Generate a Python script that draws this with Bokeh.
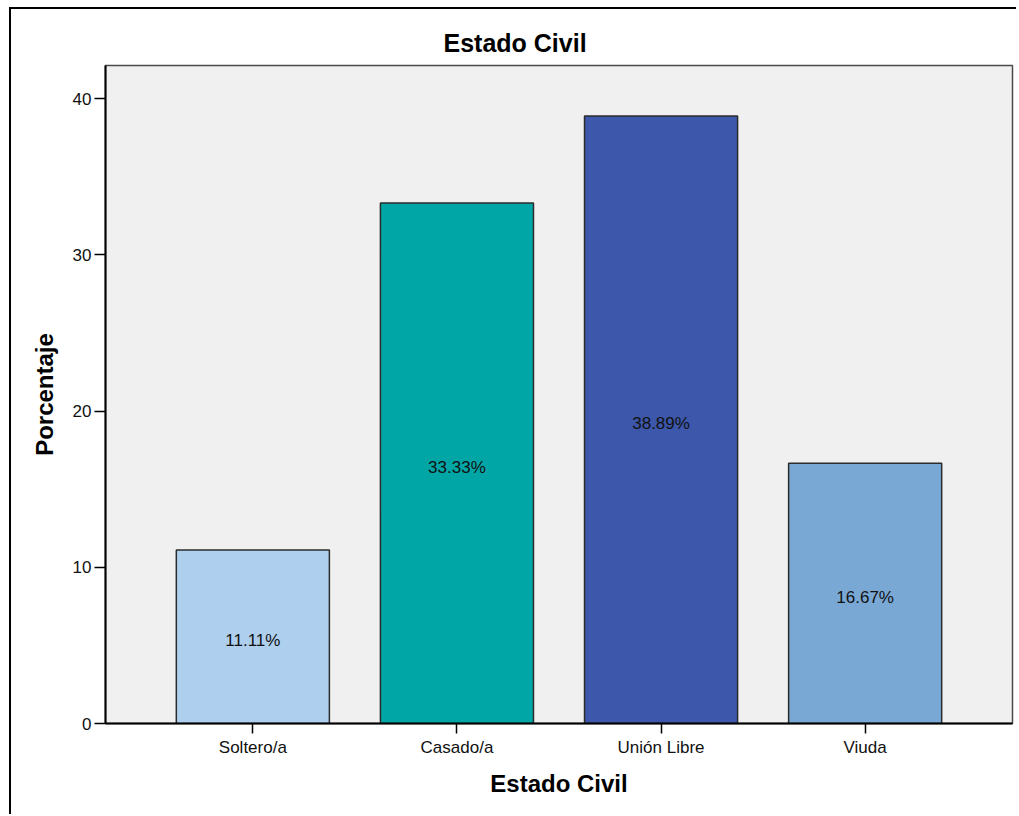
from bokeh.plotting import figure
from bokeh.models import ColumnDataSource, FixedTicker, Range1d, Title
from bokeh.embed import file_html
from bokeh.resources import INLINE
from bokeh.core.properties import value

# Estado civil: porcentaje de personas en cada categoría
categorias = ["Soltero/a", "Casado/a", "Unión Libre", "Viuda"]
porcentajes = [11.11, 33.33, 38.89, 16.67]
colores = ["#AECFEE", "#00A6A6", "#3D57AA", "#7AA8D5"]
y_ticks = [0, 10, 20, 30, 40]

FONT = "Liberation Sans"

posiciones = list(range(len(categorias)))
src = ColumnDataSource(dict(
    x=posiciones,
    top=porcentajes,
    mid=[v / 2 for v in porcentajes],
    color=colores,
    label=[f"{v:.2f}%" for v in porcentajes],
))

p = figure(
    width=1008, height=807,
    x_range=Range1d(-0.722, len(categorias) - 1 + 0.722),
    y_range=Range1d(0, 42.13),
    output_backend="svg", toolbar_location=None,
    min_border_left=94, min_border_right=7,
    min_border_top=56, min_border_bottom=93,
)
# marco exterior: solo lados izquierdo y superior
p.styles = {
    "position": "absolute", "left": "11px", "top": "9px",
    "box-shadow": "-2px -2px 0 0 #000",
    "clip-path": "inset(-3px 3px 0px -3px)",
}

p.background_fill_color = "#F0F0F0"
p.border_fill_color = "#FFFFFF"
p.outline_line_color = "#4a4a4a"
p.outline_line_width = 1.5
p.xgrid.visible = False
p.ygrid.visible = False

p.vbar(x="x", top="top", bottom=0, width=0.75, source=src,
       fill_color="color", line_color="#2b2b2b", line_width=1.5)

p.text(x="x", y="mid", text="label", source=src,
       text_align="center", text_baseline="middle", y_offset=4,
       text_font=value(FONT), text_font_size="17px", text_color="#111111")

# Eje Y
p.yaxis.ticker = FixedTicker(ticks=y_ticks)
p.yaxis.minor_tick_line_color = None
p.yaxis.major_tick_out = 11
p.yaxis.major_tick_in = 0
p.yaxis.major_tick_line_width = 1.5
p.yaxis.axis_line_width = 2
p.yaxis.major_label_standoff = 3
p.yaxis.major_label_text_font = FONT
p.yaxis.major_label_text_font_size = "17px"
p.yaxis.major_label_text_color = "#111111"
p.yaxis.axis_label = "Porcentaje"
p.yaxis.axis_label_text_font = FONT
p.yaxis.axis_label_text_font_style = "bold"
p.yaxis.axis_label_text_font_size = "24px"
p.yaxis.axis_label_text_color = "#000000"
p.yaxis.axis_label_standoff = 12

# Eje X
p.xaxis.ticker = FixedTicker(ticks=posiciones)
p.xaxis.major_label_overrides = {i: c for i, c in zip(posiciones, categorias)}
p.xaxis.minor_tick_line_color = None
p.xaxis.major_tick_out = 10
p.xaxis.major_tick_in = 0
p.xaxis.major_tick_line_width = 1.5
p.xaxis.axis_line_width = 2
p.xaxis.major_label_standoff = 4
p.xaxis.major_label_text_font = FONT
p.xaxis.major_label_text_font_size = "17px"
p.xaxis.major_label_text_color = "#111111"
p.xaxis.axis_label = "Estado Civil"
p.xaxis.axis_label_text_font = FONT
p.xaxis.axis_label_text_font_style = "bold"
p.xaxis.axis_label_text_font_size = "24px"
p.xaxis.axis_label_text_color = "#000000"
p.xaxis.axis_label_standoff = 10

p.add_layout(Title(text="Estado Civil", align="left", offset=338,
                   text_font=FONT, text_font_style="bold",
                   text_font_size="25px", text_color="#000000",
                   standoff=18), "above")

open("out.html", "w").write(file_html(p, INLINE))
